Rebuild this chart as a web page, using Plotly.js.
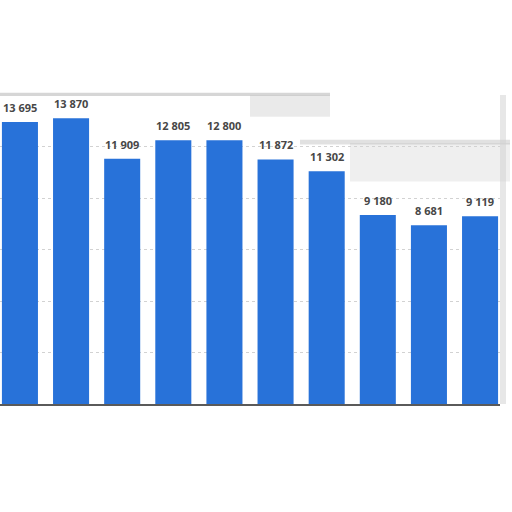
<!DOCTYPE html>
<html>
<head>
<meta charset="utf-8">
<script src="https://cdn.plot.ly/plotly-3.0.1.min.js"></script>
<style>html,body{margin:0;padding:0;background:#fff;}#chart{width:512px;height:512px;}</style>
</head>
<body>
<div id="chart"></div>
<script>
const categories = ["1","2","3","4","5","6","7","8","9","10"];
const values = [13695, 13870, 11909, 12805, 12800, 11872, 11302, 9180, 8681, 9119];

function fmt(v) {
  return String(v).replace(/\B(?=(\d{3})+(?!\d))/g, ' ');
}

const trace = {
  type: 'bar',
  x: categories,
  y: values,
  marker: {color: '#2872d9'},
  hoverinfo: 'none'
};

const annotations = categories.map((c, i) => ({
  x: i, y: values[i], xref: 'x', yref: 'y',
  text: fmt(values[i]),
  showarrow: false,
  yanchor: 'bottom',
  yshift: 5,
  font: {family: 'Open Sans, sans-serif', size: 11, color: '#474747', weight: 'bold'}
}));

const layout = {
  width: 512, height: 512,
  margin: {l: 0, r: 12, t: 95, b: 108},
  paper_bgcolor: '#ffffff',
  plot_bgcolor: 'rgba(0,0,0,0)',
  showlegend: false,
  bargap: 0.295,
  annotations: annotations,
  xaxis: {
    type: 'category',
    range: [-0.39, 9.39],
    showticklabels: false,
    ticks: '',
    showgrid: false,
    showline: true, linecolor: '#5a5a5a', linewidth: 2,
    zeroline: false
  },
  yaxis: {
    range: [0, 15000],
    dtick: 2500,
    showticklabels: false,
    ticks: '',
    showgrid: true, gridcolor: '#d2d2d2', griddash: 'dot', gridwidth: 1,
    zeroline: false
  },
  shapes: [
    {type: 'rect', xref: 'paper', yref: 'paper', x0: 0, x1: 0.66, y0: 0.997, y1: 1.007, fillcolor: '#bbbbbb', opacity: 0.6, line: {width: 0}, layer: 'below'},
    {type: 'rect', xref: 'paper', yref: 'paper', x0: 0.5, x1: 0.66, y0: 0.93, y1: 1.0, fillcolor: '#c4c4c4', opacity: 0.35, line: {width: 0}, layer: 'below'},
    {type: 'rect', xref: 'paper', yref: 'paper', x0: 0.7, x1: 1.02, y0: 0.72, y1: 0.845, fillcolor: '#d0d0d0', opacity: 0.35, line: {width: 0}, layer: 'below'},
    {type: 'rect', xref: 'paper', yref: 'paper', x0: 0.6, x1: 1.02, y0: 0.84, y1: 0.855, fillcolor: '#aaaaaa', opacity: 0.35, line: {width: 0}, layer: 'below'},
    {type: 'rect', xref: 'paper', yref: 'paper', x0: 1.0, x1: 1.012, y0: 0, y1: 1.0, fillcolor: '#d0d0d0', opacity: 0.5, line: {width: 0}, layer: 'below'}
  ]
};

Plotly.newPlot('chart', [trace], layout, {staticPlot: true, displayModeBar: false});
</script>
</body>
</html>
